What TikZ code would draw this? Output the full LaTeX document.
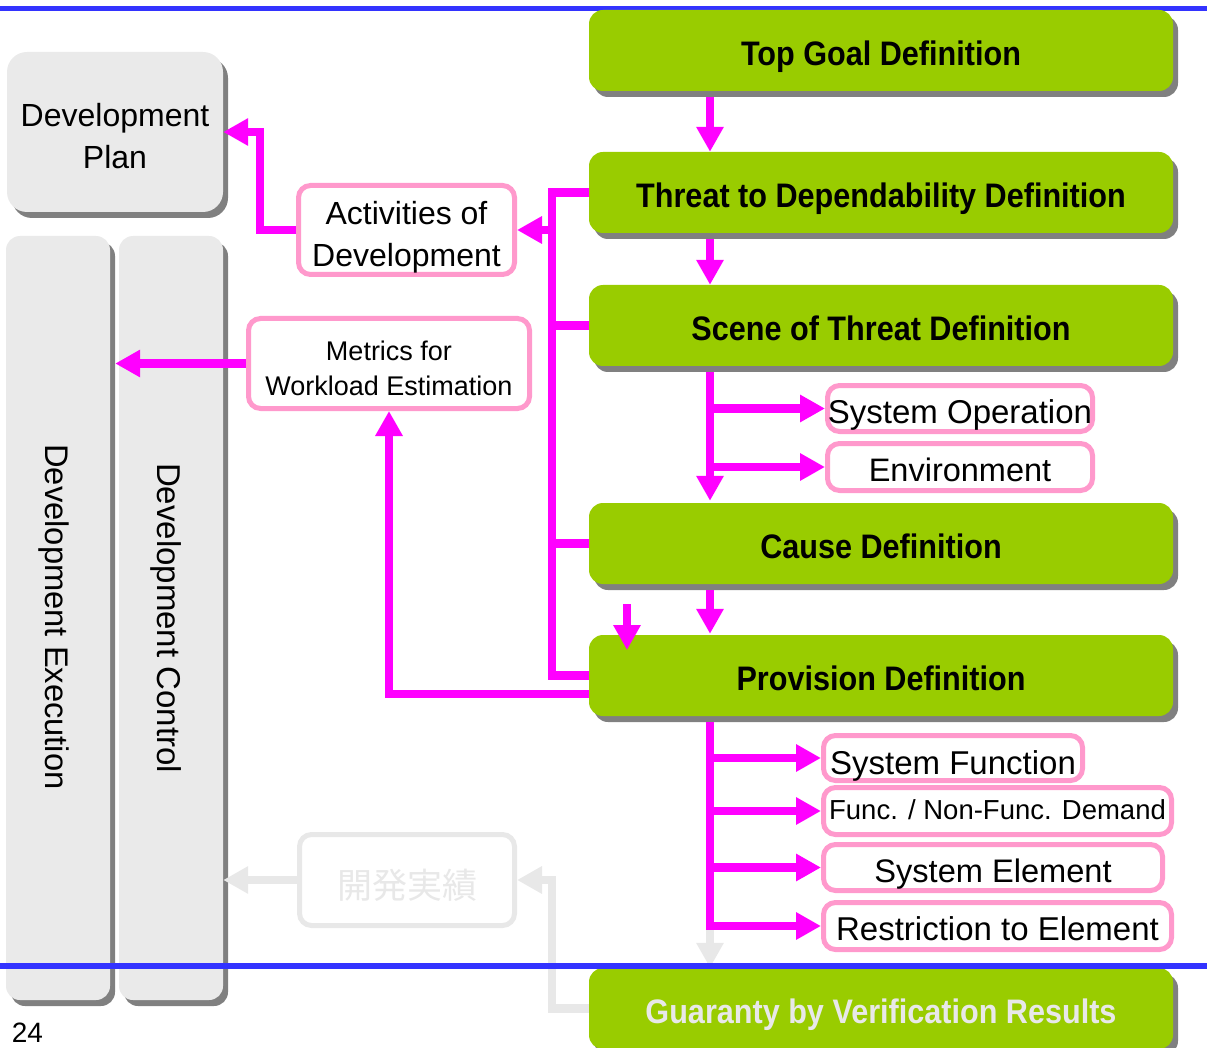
\documentclass[tikz,border=0pt]{standalone}
\usepackage{fontspec}
\setmainfont{Liberation Sans}
\newfontfamily\headfont[FakeStretch=0.9]{Liberation Sans}
\newfontfamily\jpfont{Noto Sans CJK JP}
\usetikzlibrary{arrows.meta,shadows}
\definecolor{leaf}{HTML}{99CC00}
\definecolor{shade}{HTML}{808080}
\definecolor{panel}{HTML}{EAEAEA}
\definecolor{hot}{HTML}{FF00FF}
\definecolor{rose}{HTML}{FF99CC}
\definecolor{faint}{HTML}{E8E8E8}
\definecolor{rulecol}{HTML}{3333FF}
\newcommand\fsz[2]{\fontsize{#1}{#2}\selectfont}

\begin{document}
\begin{tikzpicture}[x=1pt,y=-1pt,
  boxshadow/.style={drop shadow={shadow xshift=5pt,shadow yshift=-6pt,fill=shade,opacity=1}},
  defbox/.style={fill=leaf,rounded corners=14pt,minimum width=584pt,minimum height=81pt,
    inner sep=0pt,font=\headfont\fsz{34}{40}\bfseries,text height=30.3pt,text depth=0pt,boxshadow},
  slab/.style={fill=panel,inner sep=0pt,boxshadow},
  tag/.style={draw=rose,line width=5pt,fill=white,rounded corners=12pt,inner sep=0pt,align=center},
  txt/.style={inner sep=0pt,align=center},
  flow/.style={draw=hot,line width=8.5pt},
  flowarr/.style={flow,-{Triangle[length=25pt,width=26pt]}},
  fadearr/.style={draw=faint,line width=8.5pt,-{Triangle[length=25pt,width=26pt]}},
  rulebar/.style={draw=rulecol,line width=5.5pt}
]
\useasboundingbox (0,0) rectangle (1207,1048);

% top rule
\draw[rulebar] (0,8.5) -- (1207,8.5);

% process chain
\node[defbox] (top)    at (881,50.5)  {Top Goal Definition};
\node[defbox] (threat) at (881,192.5) {Threat to Dependability Definition};
\node[defbox] (scene)  at (881,325.5) {Scene of Threat Definition};
\node[defbox] (cause)  at (881,543.5) {Cause Definition};
\node[defbox] (prov)   at (881,675.5) {Provision Definition};
\node[defbox,text=faint] (guar) at (881,1008.5) {Guaranty by Verification Results};

% management panels
\node[slab,rounded corners=20pt,minimum width=216pt,minimum height=160pt] (devplan) at (115,132) {};
\node[txt,font=\fsz{32}{42}] (devplanlbl) at (115,136) {Development\\Plan};
\node[slab,rounded corners=14pt,minimum width=104pt,minimum height=764pt] (exec) at (58,618) {};
\node[slab,rounded corners=14pt,minimum width=104pt,minimum height=764pt] (ctrl) at (171,618) {};
\node[rotate=-90,font=\fsz{32.7}{38}] (execlbl) at (54,617) {Development Execution};
\node[rotate=-90,font=\fsz{33}{38}] (ctrllbl) at (166,618) {Development Control};

% intermediate products
\node[tag,minimum width=216pt,minimum height=89pt] (act) at (406.5,230) {};
\node[txt,font=\fsz{32}{42}] (actlbl) at (406.5,237) {Activities of\\Development};
\node[tag,minimum width=281pt,minimum height=90pt] (metrics) at (389,363.5) {};
\node[txt,font=\fsz{27}{35}] (metricslbl) at (389,368) {Metrics for\\Workload Estimation};
\node[tag,draw=faint,text=faint,minimum width=215pt,minimum height=91pt,
      font=\jpfont\fsz{35}{40},text height=36pt,text depth=0pt] (kai) at (407,880) {開発実績};

\node[tag,minimum width=265pt,minimum height=46pt,font=\fsz{33}{38},
      text height=30.6pt,text depth=0pt] (sysop) at (960,408.5) {System Operation};
\node[tag,minimum width=265pt,minimum height=47pt,font=\fsz{32.5}{38},
      text height=29.3pt,text depth=0pt] (env) at (960,467) {Environment};

\node[tag,minimum width=259pt,minimum height=45pt,font=\fsz{33}{38},
      text height=33.6pt,text depth=0pt] (sysfn) at (953,758) {System Function};
\node[tag,minimum width=348pt,minimum height=47pt,font=\fsz{27.5}{32},
      text height=16.7pt,text depth=0pt] (func) at (997.5,811) {Func. / Non-Func. Demand};
\node[tag,minimum width=339pt,minimum height=46pt,font=\fsz{32.6}{38},
      text height=30.3pt,text depth=0pt] (syselem) at (993,867.5) {System Element};
\node[tag,minimum width=348pt,minimum height=47pt,font=\fsz{33}{38},
      text height=29.6pt,text depth=0pt] (restr) at (997.5,926) {Restriction to Element};

\node[font=\fsz{28}{32}] (pageno) at (27.5,1033) {24};

% guide coordinates
\coordinate (bus) at (552,0);
\coordinate (spine) at (710,0);
\coordinate (stub) at (627,604);

% main spine
\draw[flowarr] ([yshift=-6pt]spine |- top.south) -- (spine |- threat.north);
\draw[flowarr] ([yshift=-6pt]spine |- threat.south) -- (spine |- scene.north);
\draw[flowarr] ([yshift=-6pt]spine |- scene.south) -- ([yshift=2pt]spine |- cause.north);
\draw[flowarr] (spine |- sysop.west) -- (sysop.west);
\draw[flowarr] (spine |- env.west) -- (env.west);
\draw[flowarr] ([yshift=-6pt]spine |- cause.south) -- ([yshift=1pt]spine |- prov.north);
\draw[flowarr] (stub) -- ++(0,46);

\draw[flow] ([yshift=-6pt]spine |- prov.south) -- ([yshift=-4.25pt]spine |- restr.west);
\draw[flowarr] (spine |- sysfn.west) -- (sysfn.west);
\draw[flowarr] (spine |- func.west) -- (func.west);
\draw[flowarr] (spine |- syselem.west) -- (syselem.west);
\draw[flowarr] (spine |- restr.west) -- (restr.west);
\draw[fadearr] ([yshift=-4.25pt]spine |- restr.west) -- (spine |- guar.north);

% collecting bus on the left of the chain
\draw[flow] (threat.west) -- (bus |- threat.west) -- (bus |- prov.west) -- (prov.west);
\draw[flow] (scene.west) -- (bus |- scene.west);
\draw[flow] (cause.west) -- (bus |- cause.west);
\draw[flowarr] (bus |- act.east) -- (act.east);

% feeds into management
\draw[flowarr] (act.west) -- ++(-36,0) |- (devplan.east);
\draw[flowarr] ([yshift=-18.5pt]prov.west) -| (metrics.south);
\draw[flowarr] (metrics.west) -- ([xshift=5pt]metrics.west -| exec.east);

% results feedback
\draw[fadearr] (kai.west) -- (kai.west -| ctrl.east);
\draw[fadearr] (guar.west) -- (guar.west -| bus) |- (kai.east);

% bottom rule
\draw[rulebar] (0,966) -- (1207,966);
\end{tikzpicture}
\end{document}
